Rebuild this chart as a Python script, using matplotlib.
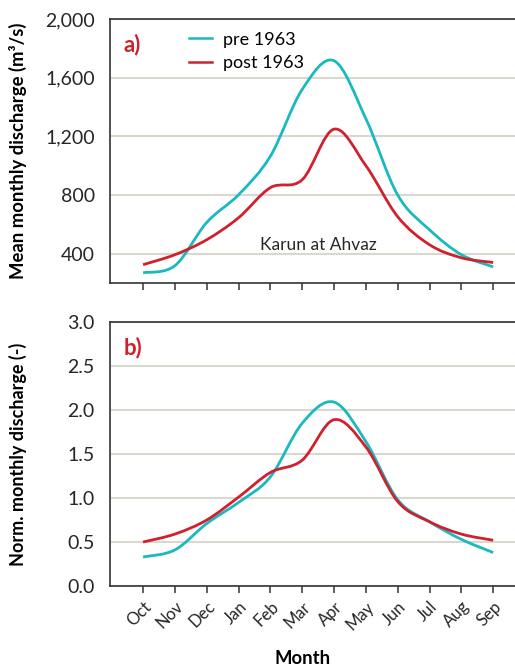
import matplotlib
matplotlib.use("Agg")
import matplotlib.pyplot as plt
import numpy as np
from matplotlib.path import Path
from matplotlib.patches import PathPatch

months = ["Oct", "Nov", "Dec", "Jan", "Feb", "Mar", "Apr", "May", "Jun", "Jul", "Aug", "Sep"]
pre_abs = [270, 318, 613, 802, 1065, 1520, 1715, 1320, 800, 563, 393, 310]
post_abs = [325, 393, 495, 645, 850, 904, 1249, 1000, 652, 461, 372, 340]
pre_norm = [0.33, 0.41, 0.71, 0.95, 1.24, 1.85, 2.09, 1.64, 0.98, 0.73, 0.53, 0.38]
post_norm = [0.50, 0.59, 0.75, 1.01, 1.29, 1.43, 1.89, 1.58, 0.96, 0.73, 0.59, 0.52]
yticks_a = [400, 800, 1200, 1600, 2000]
yticks_b = [0.0, 0.5, 1.0, 1.5, 2.0, 2.5, 3.0]

CYAN = "#19B9BF"
RED = "#D0202E"
GRID = "#D8D8D0"
FONT = "Lato"
plt.rcParams["font.family"] = [FONT, "DejaVu Sans"]


def smooth_path(x, y):
    pts = np.column_stack([x, y]).astype(float)
    n = len(pts)
    verts = [pts[0]]
    codes = [Path.MOVETO]
    for i in range(n - 1):
        p0 = pts[i - 1] if i > 0 else pts[i]
        p1 = pts[i]
        p2 = pts[i + 1]
        p3 = pts[i + 2] if i + 2 < n else pts[i + 1]
        c1 = p1 + (p2 - p0) / 6.0
        c2 = p2 - (p3 - p1) / 6.0
        verts += [c1, c2, p2]
        codes += [Path.CURVE4] * 3
    return Path(verts, codes)


def draw(ax, y, color, label):
    x = np.arange(len(y))
    ax.add_patch(PathPatch(smooth_path(x, y), fill=False, edgecolor=color, lw=2.0,
                           transform=ax.transData, capstyle="butt"))
    ax.plot([], [], color=color, lw=1.8, label=label)


fig = plt.figure(figsize=(5.15, 6.70), dpi=100)
W = 515.0
H = 670.0
left = 110 / W
width = (525 - 110) / W
ax1 = fig.add_axes([left, 1 - 283 / H, width, (283 - 19) / H])
ax2 = fig.add_axes([left, 1 - 586 / H, width, (586 - 322) / H])

for ax in (ax1, ax2):
    ax.set_xlim(-1.04, 12.0)
    ax.set_xticks(np.arange(len(months)))
    ax.spines["right"].set_visible(False)
    for s in ("left", "bottom", "top"):
        ax.spines[s].set_color("#333333")
        ax.spines[s].set_linewidth(1.2)
    ax.grid(axis="y", color=GRID, lw=1.5)
    ax.set_axisbelow(True)
    ax.tick_params(axis="y", length=0, labelsize=14, pad=11, labelcolor="#262626")
    ax.tick_params(axis="x", length=5, width=1.1, color="#333333", direction="out")

draw(ax1, pre_abs, CYAN, "pre 1963")
draw(ax1, post_abs, RED, "post 1963")
ax1.set_ylim(200, 2000)
ax1.set_yticks(yticks_a)
ax1.set_yticklabels([f"{v:,}" for v in yticks_a])
ax1.set_xticklabels([])
ax1.set_ylabel("Mean monthly discharge (m³/s)", fontsize=13.3, fontweight="bold")
ax1.text(0.032, 0.905, "a)", transform=ax1.transAxes, color=RED, fontsize=16,
         fontweight="bold", va="center")
ax1.text(0.362, 0.145, "Karun at Ahvaz", transform=ax1.transAxes, fontsize=12.5,
         color="#262626", va="center")
ax1.legend(loc="upper left", bbox_to_anchor=(0.16, 1.0), frameon=False, fontsize=13,
           handlelength=1.25, handletextpad=0.62, labelspacing=0.42, borderpad=0.2)

draw(ax2, pre_norm, CYAN, "pre 1963")
draw(ax2, post_norm, RED, "post 1963")
ax2.set_ylim(0, 3.0)
ax2.set_yticks(yticks_b)
ax2.set_yticklabels([f"{v:.1f}" for v in yticks_b])
ax2.set_xticklabels(months, rotation=45, ha="right", va="top", rotation_mode="anchor",
                    fontsize=12, color="#262626")
ax2.tick_params(axis="x", pad=4)
ax2.set_ylabel("Norm. monthly discharge (-)", fontsize=13, fontweight="bold")
ax2.text(0.032, 0.905, "b)", transform=ax2.transAxes, color=RED, fontsize=16,
         fontweight="bold", va="center")
ax2.set_xlabel("Month", fontsize=13.3, fontweight="bold")

for ax in (ax1, ax2):
    ax.yaxis.set_label_coords(-83 / (525 - 110), 0.5)
ax2.xaxis.set_label_coords((303 - 110) / (525 - 110), -0.244)

fig.savefig("out.png", dpi=100)
